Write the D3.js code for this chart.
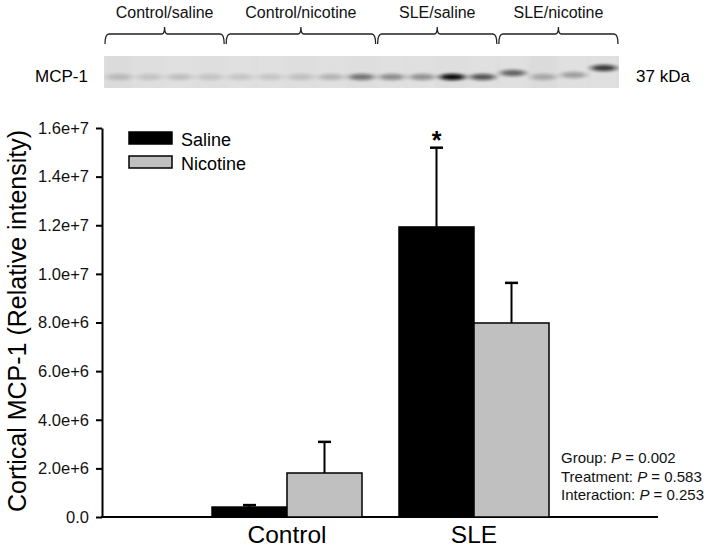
<!DOCTYPE html>
<html>
<head>
<meta charset="utf-8">
<script src="https://cdn.jsdelivr.net/npm/d3@7"></script>
<style>
  body { margin: 0; background: #fff; }
  svg { font-family: "Liberation Sans", Arial, sans-serif; }
</style>
</head>
<body>
<div id="chart"></div>
<script>
// data
var groups = ["Control", "SLE"];
var treatments = ["Saline", "Nicotine"];
var means = [[0.41e6, 1.81e6], [11.93e6, 7.98e6]];
var errors = [[0.08e6, 1.28e6], [3.26e6, 1.65e6]];
var yTicks = [0, 2e6, 4e6, 6e6, 8e6, 10e6, 12e6, 14e6, 16e6];
var statLines = [["Group: ", "0.002"], ["Treatment: ", "0.583"], ["Interaction: ", "0.253"]];

// blot
var blotLabels = ["Control/saline", "Control/nicotine", "SLE/saline", "SLE/nicotine"];
var blotLaneCounts = [4, 5, 4, 4];
var bandIntensity = [0.16, 0.12, 0.15, 0.12, 0.12, 0.12, 0.14, 0.2, 0.5, 0.38, 0.36, 1.0, 0.65, 0.58, 0.25, 0.3, 0.78];
var bandShift = [0, 0, 0, 0, 0, 0, 0, 0, 0, 0, 0, 0, 0, -4, 0, -2, -9];
var laneShade = [0.14, 0.13, 0.12, 0.13, 0.12, 0.12, 0.13, 0.12, 0.13, 0.12, 0.12, 0.13, 0.12, 0.12, 0.14, 0.12, 0.12];

var width = 709, height = 551;
var svg = d3.select("#chart").append("svg")
  .attr("width", width)
  .attr("height", height);

var defs = svg.append("defs");
defs.append("filter").attr("id", "blur")
  .attr("x", "-50%").attr("y", "-150%").attr("width", "200%").attr("height", "400%")
  .append("feGaussianBlur").attr("stdDeviation", "3 1.8");
defs.append("filter").attr("id", "soft")
  .append("feGaussianBlur").attr("stdDeviation", "1.5");

// ---- blot strip ----
var blotLeft = 104, blotRight = 619, blotTop = 56, blotBottom = 88;
var nLanes = bandIntensity.length;
var laneX = d3.scaleLinear().domain([0, nLanes]).range([blotLeft, blotRight]);
var shadeColor = d3.scaleLinear().domain([0, 1]).range(["#ffffff", "#000000"]);

var blot = svg.append("g");
blot.append("clipPath").attr("id", "blotclip").append("rect")
  .attr("x", blotLeft).attr("y", blotTop)
  .attr("width", blotRight - blotLeft).attr("height", blotBottom - blotTop);
var blotInner = blot.append("g").attr("clip-path", "url(#blotclip)");

blotInner.append("rect")
  .attr("x", blotLeft).attr("y", blotTop)
  .attr("width", blotRight - blotLeft).attr("height", blotBottom - blotTop)
  .attr("fill", "#dedede");

blotInner.selectAll(".lane").data(laneShade).enter().append("rect")
  .attr("class", "lane")
  .attr("x", (d, i) => laneX(i) + 2)
  .attr("y", blotTop - 4)
  .attr("width", laneX(1) - laneX(0) - 4)
  .attr("height", blotBottom - blotTop + 8)
  .attr("fill", d => shadeColor(d))
  .attr("filter", "url(#soft)");

blotInner.selectAll(".band").data(bandIntensity).enter().append("ellipse")
  .attr("class", "band")
  .attr("cx", (d, i) => laneX(i + 0.5))
  .attr("cy", (d, i) => 77 + bandShift[i])
  .attr("rx", 13)
  .attr("ry", 3.2)
  .attr("fill", "#0a0a0a")
  .attr("opacity", d => d)
  .attr("filter", "url(#blur)");

// brackets + labels
var laneStart = [0];
blotLaneCounts.forEach((c, i) => laneStart.push(laneStart[i] + c));

blotLabels.forEach(function (lab, i) {
  var x0 = laneX(laneStart[i]), x1 = laneX(laneStart[i + 1]), xc = (x0 + x1) / 2;
  var p = d3.path();
  p.moveTo(x0 + 1, 44);
  p.quadraticCurveTo(x0 + 1, 34, x0 + 5, 34);
  p.lineTo(xc - 3, 34);
  p.quadraticCurveTo(xc, 34, xc, 27);
  p.quadraticCurveTo(xc, 34, xc + 3, 34);
  p.lineTo(x1 - 5, 34);
  p.quadraticCurveTo(x1 - 1, 34, x1 - 1, 44);
  svg.append("path").attr("d", p.toString())
    .attr("fill", "none").attr("stroke", "#222").attr("stroke-width", 1.3);
  svg.append("text")
    .attr("x", xc).attr("y", 18)
    .attr("text-anchor", "middle")
    .attr("font-size", 16)
    .attr("fill", "#111")
    .text(lab);
});

svg.append("text").attr("x", 88).attr("y", 82)
  .attr("text-anchor", "end").attr("font-size", 17).text("MCP-1");
svg.append("text").attr("x", 636).attr("y", 82)
  .attr("font-size", 17).text("37 kDa");

// ---- bar chart ----
var y = d3.scaleLinear().domain([0, 1.6e7]).range([517, 128]);
var x0 = d3.scaleBand().domain(groups).range([193.5, 567.5]);
var x1 = d3.scaleBand().domain(treatments).range([0, x0.bandwidth()]).paddingOuter(0.2467);
var fills = { "Saline": "#000000", "Nicotine": "#c0c0c0" };

var fmt = d3.format(".1e");
var yAxis = d3.axisLeft(y).tickValues(yTicks).tickSize(6).tickSizeOuter(0)
  .tickFormat(d => d === 0 ? "0.0" : fmt(d));

var gy = svg.append("g").attr("transform", "translate(102,0)").call(yAxis);
gy.attr("font-family", null);
gy.select(".domain").attr("stroke-width", 2);
gy.selectAll(".tick line").attr("stroke-width", 2);
gy.selectAll(".tick text").attr("font-size", 16.5).attr("x", -13).attr("fill", "#111");

// x axis line
svg.append("line")
  .attr("x1", 101).attr("x2", 658)
  .attr("y1", y(0)).attr("y2", y(0))
  .attr("stroke", "#000").attr("stroke-width", 2);

var barData = [];
groups.forEach((g, gi) => treatments.forEach((t, ti) => {
  barData.push({ group: g, treat: t, mean: means[gi][ti], err: errors[gi][ti] });
}));

// error bars (upper only)
var eb = svg.selectAll(".err").data(barData).enter().append("g").attr("class", "err");
eb.append("line")
  .attr("x1", d => x0(d.group) + x1(d.treat) + x1.bandwidth() / 2)
  .attr("x2", d => x0(d.group) + x1(d.treat) + x1.bandwidth() / 2)
  .attr("y1", d => y(d.mean))
  .attr("y2", d => y(d.mean + d.err))
  .attr("stroke", "#000").attr("stroke-width", 2);
eb.append("line")
  .attr("x1", d => x0(d.group) + x1(d.treat) + x1.bandwidth() / 2 - 6.5)
  .attr("x2", d => x0(d.group) + x1(d.treat) + x1.bandwidth() / 2 + 6.5)
  .attr("y1", d => y(d.mean + d.err))
  .attr("y2", d => y(d.mean + d.err))
  .attr("stroke", "#000").attr("stroke-width", 2.5);

svg.selectAll(".bar").data(barData).enter().append("rect")
  .attr("class", "bar")
  .attr("x", d => x0(d.group) + x1(d.treat))
  .attr("y", d => y(d.mean))
  .attr("width", x1.bandwidth())
  .attr("height", d => y(0) - y(d.mean))
  .attr("fill", d => fills[d.treat])
  .attr("stroke", "#000")
  .attr("stroke-width", 1.5);

// asterisk
var sleSal = barData[2];
svg.append("text")
  .attr("x", x0(sleSal.group) + x1(sleSal.treat) + x1.bandwidth() / 2)
  .attr("y", y(sleSal.mean + sleSal.err) + 1)
  .attr("text-anchor", "middle")
  .attr("font-size", 25)
  .attr("font-weight", "bold")
  .text("*");

// x labels
svg.selectAll(".xlab").data(groups).enter().append("text")
  .attr("x", d => x0(d) + x0.bandwidth() / 2)
  .attr("y", 543)
  .attr("text-anchor", "middle")
  .attr("font-size", 24.5)
  .text(d => d);

// y title
svg.append("text")
  .attr("transform", "translate(26,321) rotate(-90)")
  .attr("text-anchor", "middle")
  .attr("font-size", 25)
  .text("Cortical MCP-1 (Relative intensity)");

// legend
var leg = svg.selectAll(".leg").data(treatments).enter().append("g")
  .attr("transform", (d, i) => "translate(129," + (132 + i * 24) + ")");
leg.append("rect").attr("width", 43).attr("height", 12)
  .attr("fill", d => fills[d]).attr("stroke", "#000").attr("stroke-width", 1.5);
leg.append("text").attr("x", 52).attr("y", 13.5).attr("font-size", 18).text(d => d);

// stats
var st = svg.selectAll(".stat").data(statLines).enter().append("text")
  .attr("x", 561)
  .attr("y", (d, i) => 463 + i * 18.5)
  .attr("font-size", 15)
  .attr("fill", "#111");
st.append("tspan").text(d => d[0]);
st.append("tspan").attr("font-style", "italic").text("P");
st.append("tspan").text(d => " = " + d[1]);
</script>
</body>
</html>
